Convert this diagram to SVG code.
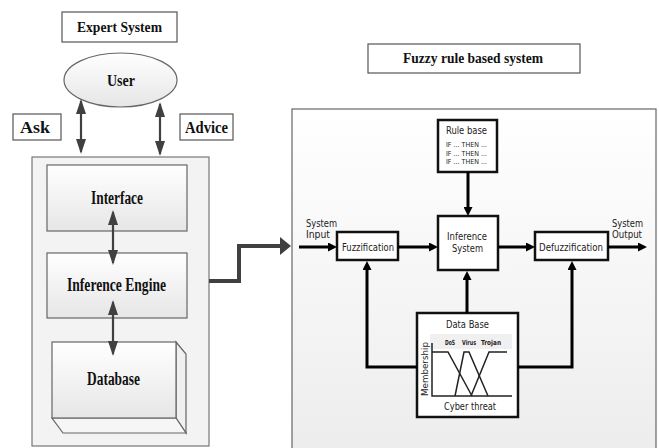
<svg xmlns="http://www.w3.org/2000/svg" width="659" height="448" viewBox="0 0 659 448">
<defs>
<linearGradient id="gBox" x1="0" y1="0" x2="0" y2="1"><stop offset="0" stop-color="#ffffff"/><stop offset="1" stop-color="#e6e6e6"/></linearGradient>
<linearGradient id="gPanel" x1="0" y1="0" x2="0" y2="1"><stop offset="0" stop-color="#ffffff"/><stop offset="1" stop-color="#ececec"/></linearGradient>
<marker id="hGray" viewBox="0 0 15 10" refX="13" refY="5" markerWidth="15" markerHeight="10" markerUnits="userSpaceOnUse" orient="auto-start-reverse"><path d="M0,0 L15,5 L0,10 z" fill="#404040"/></marker>
<marker id="hBig" viewBox="0 0 11 18" refX="3" refY="9" markerWidth="11" markerHeight="18" markerUnits="userSpaceOnUse" orient="auto"><path d="M0,0 L11,9 L0,18 z" fill="#404040"/></marker>
<marker id="hBlk" viewBox="0 0 9 9" refX="3" refY="4.5" markerWidth="9" markerHeight="9" markerUnits="userSpaceOnUse" orient="auto"><path d="M0,0 L9,4.5 L0,9 z" fill="#000"/></marker>
<style>
.ser{font-family:"Liberation Serif","Times New Roman",serif;font-weight:bold;fill:#111}
.san{font-family:"DejaVu Sans","Liberation Sans",sans-serif;fill:#222}
.tbox{fill:#fff;stroke:#555;stroke-width:1.2}
.gbox{fill:url(#gBox);stroke:#666;stroke-width:1.2}
.kbox{fill:#fff;stroke:#111;stroke-width:2.5}
.ga{stroke:#404040;stroke-width:2.2;fill:none;marker-start:url(#hGray);marker-end:url(#hGray)}
.ba{stroke:#000;stroke-width:3;fill:none;marker-end:url(#hBlk)}
.mf{stroke:#222;stroke-width:1.5;fill:none}
</style>
</defs>

<!-- Titles -->
<g id="title-expert"><rect class="tbox" x="62" y="12" width="115" height="30"/><text class="ser" x="77" y="32" font-size="15" textLength="85" lengthAdjust="spacingAndGlyphs">Expert System</text></g>
<g id="title-fuzzy"><rect class="tbox" x="368" y="44" width="212" height="29"/><text class="ser" x="403" y="63" font-size="15.5" textLength="140" lengthAdjust="spacingAndGlyphs">Fuzzy rule based system</text></g>

<!-- Left side -->
<g id="user"><ellipse cx="120.5" cy="80" rx="56.5" ry="27" fill="url(#gBox)" stroke="#666" stroke-width="1.2"/><text class="ser" x="107" y="86" font-size="16" textLength="28" lengthAdjust="spacingAndGlyphs">User</text></g>
<g id="ask"><rect class="tbox" x="13" y="114" width="48" height="26"/><text class="ser" x="20" y="133" font-size="16" textLength="30" lengthAdjust="spacingAndGlyphs">Ask</text></g>
<g id="advice"><rect class="tbox" x="180" y="114" width="53" height="26"/><text class="ser" x="185" y="133" font-size="16" textLength="43" lengthAdjust="spacingAndGlyphs">Advice</text></g>

<g id="expert-panel"><rect x="32" y="157" width="177" height="289" fill="#f3f3f3" stroke="#777" stroke-width="1.2"/></g>
<g id="interface"><rect class="gbox" x="47" y="165" width="140" height="66"/><text class="ser" x="91" y="204" font-size="18" textLength="52" lengthAdjust="spacingAndGlyphs">Interface</text></g>
<g id="inference-engine"><rect class="gbox" x="47" y="253" width="140" height="65"/><text class="ser" x="67" y="291" font-size="18" textLength="99" lengthAdjust="spacingAndGlyphs">Inference Engine</text></g>
<g id="database">
<polygon points="176,342 186,354 186,433 176,418" fill="#f0f0f0" stroke="#666" stroke-width="1.2"/>
<polygon points="52,418 176,418 186,433 63,433" fill="#f6f6f6" stroke="#666" stroke-width="1.2"/>
<rect class="gbox" x="52" y="342" width="124" height="76"/>
<text class="ser" x="87" y="385" font-size="18" textLength="53" lengthAdjust="spacingAndGlyphs">Database</text></g>

<!-- Right panel -->
<g id="fuzzy-panel"><rect x="292" y="109" width="364" height="360" fill="url(#gPanel)" stroke="#666" stroke-width="1.2"/></g>
<g id="rule-base"><rect class="kbox" x="438" y="120" width="59" height="52"/>
<text class="san" x="446" y="134" font-size="10" textLength="41" lengthAdjust="spacingAndGlyphs">Rule base</text>
<text class="san" x="446" y="147" font-size="7" textLength="41" lengthAdjust="spacingAndGlyphs">IF ... THEN ...</text>
<text class="san" x="446" y="155.5" font-size="7" textLength="41" lengthAdjust="spacingAndGlyphs">IF ... THEN ...</text>
<text class="san" x="446" y="164" font-size="7" textLength="41" lengthAdjust="spacingAndGlyphs">IF ... THEN ...</text></g>
<g id="inference-system"><rect class="kbox" x="438" y="216" width="60" height="54"/>
<text class="san" x="447" y="240" font-size="11" textLength="40" lengthAdjust="spacingAndGlyphs">Inference</text>
<text class="san" x="452" y="252" font-size="11" textLength="31" lengthAdjust="spacingAndGlyphs">System</text></g>
<g id="fuzzification"><rect class="kbox" x="337" y="232" width="61" height="28"/><text class="san" x="342" y="251" font-size="11" textLength="52" lengthAdjust="spacingAndGlyphs">Fuzzification</text></g>
<g id="defuzzification"><rect class="kbox" x="535" y="232" width="73" height="28"/><text class="san" x="539" y="251" font-size="11" textLength="64" lengthAdjust="spacingAndGlyphs">Defuzzification</text></g>
<g id="data-base"><rect class="kbox" x="417" y="313" width="101" height="104"/>
<text class="san" x="446" y="328" font-size="11" textLength="43" lengthAdjust="spacingAndGlyphs">Data Base</text>
<rect x="430" y="334" width="82" height="15" fill="#f0f0f0"/>
<text class="san" x="445" y="345" font-size="7" font-weight="bold" textLength="10" lengthAdjust="spacingAndGlyphs">DoS</text>
<text class="san" x="462" y="345" font-size="7" font-weight="bold" textLength="14" lengthAdjust="spacingAndGlyphs">Virus</text>
<text class="san" x="481" y="345" font-size="7" font-weight="bold" textLength="20" lengthAdjust="spacingAndGlyphs">Trojan</text>
<text class="san" transform="translate(428,369) rotate(-90)" x="0" y="0" font-size="8.5" text-anchor="middle" textLength="54" lengthAdjust="spacingAndGlyphs">Membership</text>
<polyline class="mf" points="432,343 432,396 512,396"/>
<polyline class="mf" points="432,352 448,352 472,396"/>
<polyline class="mf" points="455,396 464,352 469,352 488,396"/>
<polyline class="mf" points="471,396 489,352 507,352"/>
<text class="san" x="444" y="410" font-size="11" textLength="52" lengthAdjust="spacingAndGlyphs">Cyber threat</text></g>

<g id="io-labels">
<text class="san" x="306" y="227" font-size="10.5" textLength="31" lengthAdjust="spacingAndGlyphs">System</text>
<text class="san" x="306" y="238" font-size="10.5" textLength="24" lengthAdjust="spacingAndGlyphs">Input</text>
<text class="san" x="612" y="227" font-size="10.5" textLength="31" lengthAdjust="spacingAndGlyphs">System</text>
<text class="san" x="612" y="238" font-size="10.5" textLength="30" lengthAdjust="spacingAndGlyphs">Output</text>
</g>

<!-- Connectors -->
<g id="connectors">
<line class="ga" x1="81" y1="101" x2="81" y2="152"/>
<line class="ga" x1="160" y1="104" x2="160" y2="154"/>
<line class="ga" x1="113" y1="212" x2="113" y2="263"/>
<line class="ga" x1="113" y1="302" x2="113" y2="354"/>
<polyline points="209,281 239,281 239,246 283,246" fill="none" stroke="#404040" stroke-width="4" marker-end="url(#hBig)"/>
<line class="ba" x1="299" y1="247" x2="331" y2="247"/>
<line class="ba" x1="398" y1="247" x2="432" y2="247"/>
<line class="ba" x1="498" y1="247" x2="529" y2="247"/>
<line class="ba" x1="608" y1="247" x2="641" y2="247"/>
<line class="ba" x1="468" y1="172" x2="468" y2="210"/>
<polyline class="ba" points="417,367 367,367 367,267"/>
<line class="ba" x1="467" y1="313" x2="467" y2="277"/>
<polyline class="ba" points="518,367 572,367 572,267"/>
</g>
</svg>
